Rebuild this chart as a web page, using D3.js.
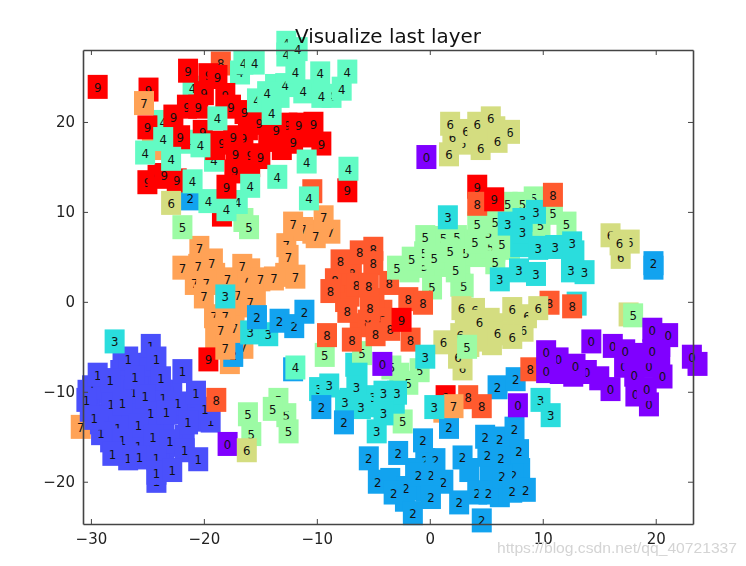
<!DOCTYPE html>
<html><head><meta charset="utf-8">
<script src="https://cdnjs.cloudflare.com/ajax/libs/d3/7.8.5/d3.min.js"></script>
<style>html,body{margin:0;padding:0;background:#fff}svg{display:block}</style>
</head><body><svg id="c" width="746" height="566"></svg>
<script>
const digitColors=["#8000ff","#4a50fb","#12a3ef","#2adddd","#62fbc4","#9cfba4","#d4dd80","#ffa256","#ff5a2e","#ff0000"];
const xTicks=[-30,-20,-10,0,10,20], yTicks=[-20,-10,0,10,20];
const titleText="Visualize last layer", watermark="https://blog.csdn.net/qq_40721337";

const x7u=[-19.0,-18.1,-16.8,-15.4,-17.3,-19.0,-17.3,-10.4,-15.9,-12.8,-17.7,-24.6,1.2,-19.2,-20.5,-16.3,-12.7,-17.0,-19.1,-17.3,-16.5,-11.2,-10.1,-8.8];
const y7u=[3.0,0.8,-0.4,0.4,-0.7,-4.2,-4.2,7.8,3.5,3.0,-6.7,17.1,-12.1,4.6,4.0,2.4,6.3,0.8,-1.6,-2.9,-5.0,8.1,7.3,7.8];
const x7a=[-20.4,-21.9,-19.3,-16.6,-20.8,-19.8,-17.9,-15.0,-13.8,-11.9,-12.5,-20.0,-15.9,-18.1,-18.5,-12.1,-9.4,-30.9];
const y7a=[6.0,3.8,4.3,4.0,2.1,2.1,2.5,2.5,2.6,2.8,5.0,0.6,0.0,-1.6,-3.1,8.7,9.4,-13.9];
const x2a=[-21.2,-12.1,-17.4,6.0,7.6];
const y2a=[11.5,-7.5,-5.9,-9.5,-8.6];
const x9a=[-18.4,4.2,1.4];
const y9a=[9.7,12.8,-10.6];
const x1u=[-29.2,-27.9,-27.4,-25.0,-24.0,-21.2,-28.8,-27.0,-24.8,-23.5,-22.1,-20.4,-28.3,-24.8,-23.5,-21.7,-27.0,-30.1,-25.7,-26.1,-24.8,-22.8,-29.2,-27.6,-22.8,-23.9,-30.3,-27.2,-24.7,-29.9,-26.2,-23.7,-23.6,-22.3,-24.2,-19.4,-19.9,-27.6,-29.1,-25.8,-25.8,-26.7];
const y1u=[-10.0,-10.0,-7.8,-8.1,-9.3,-11.5,-12.6,-12.9,-13.7,-14.0,-12.3,-13.1,-15.4,-16.5,-17.0,-15.0,-14.5,-12.0,-12.0,-7.0,-7.0,-10.0,-13.4,-16.5,-15.9,-18.2,-10.0,-6.9,-4.9,-9.5,-10.0,-10.0,-10.7,-11.3,-19.9,-13.2,-11.9,-14.0,-14.6,-15.1,-16.0,-17.4];
const x1=[-26.7,-24.2,-21.9,-29.4,-28.3,-26.1,-23.8,-30.4,-28.2,-27.2,-25.2,-20.7,-24.7,-23.3,-29.7,-25.8,-21.4,-24.5,-27.2,-23.0,-28.1,-25.7,-24.2,-21.7,-20.5,-24.2,-22.8];
const y1=[-6.3,-6.3,-7.7,-8.1,-8.7,-8.4,-8.5,-10.9,-11.4,-11.3,-10.5,-10.1,-12.4,-12.3,-12.9,-13.7,-13.4,-15.0,-15.4,-15.5,-16.9,-17.3,-17.4,-16.5,-17.5,-19.0,-18.7];
const x5u=[0.9,0.9,2.7,4.4,-1.8,4.9,5.8,7.1,2.7,-2.7,-16.5,-0.5,-0.5,1.2,5.4,5.2,6.4,5.8,3.0,9.2,10.9,-3.4,9.8,-12.7,-13.4,5.8,2.4];
const y5u=[6.1,4.1,4.4,5.2,3.5,8.5,5.8,6.0,1.9,-8.1,9.1,4.0,5.4,7.1,6.1,7.7,6.4,4.4,1.8,11.5,9.9,-7.3,8.5,-12.6,-10.9,8.9,7.2];
const x5a=[-21.9,-16.0,-9.3,-6.0,-0.9,-1.9,-16.1,-15.8,-13.9,-12.5,-0.4,-1.6,0.4,1.8,3.2,4.0,2.3,0.2,6.9,8.2,12.1,4.2];
const y5a=[8.3,8.3,-5.9,-5.7,-7.6,-9.0,-12.5,-14.7,-11.9,-14.4,7.2,4.8,4.9,5.7,5.4,6.7,3.5,1.6,10.9,10.9,8.7,8.7];
const x3a=[13.0,-6.6];
const y3a=[-0.2,-7.0];
const x8u=[-7.1,-4.2,-6.2,-7.5,-4.9,-7.1,-5.0,-8.4,-6.9,-6.5,-5.5,-4.2,-3.5,-1.9,10.6];
const y8u=[0.8,-1.1,-2.6,0.2,0.2,4.4,5.9,2.4,3.2,1.9,-2.2,-2.0,-3.0,0.3,-0.1];
const x8=[-18.5,-10.4,-7.9,-6.2,-5.0,-8.8,-5.4,-3.6,-7.3,-5.3,-0.6,-9.1,-6.9,-4.8,-1.7,4.2,12.6,8.9,3.4,4.6,-18.9];
const y8=[26.5,12.3,4.5,5.5,4.3,1.2,1.8,2.1,-1.0,-0.7,-0.1,-3.7,-4.2,-3.6,-4.2,10.9,-0.5,-7.5,-10.6,-11.6,-10.9];
const x5b=[-2.9,-2.4];
const y5b=[3.8,-13.3];
const x3u=[-7.1,-5.3,-3.1,-6.4,8.0,12.8,-7.5,-5.0,-15.9,-2.9,8.2];
const y3u=[-10.9,-11.5,-11.1,-8.1,6.3,5.5,-11.1,-10.6,-3.4,-10.1,9.1];
const x3=[-27.9,-18.1,-14.3,-9.8,-8.9,-6.5,-6.1,-4.1,-4.1,-4.7,1.6,9.4,6.9,8.2,9.6,11.1,12.6,6.2,7.9,9.4,12.5,13.7,9.8,10.7];
const y3=[-4.4,0.6,-3.6,-9.7,-9.3,-9.5,-11.7,-10.1,-12.4,-14.4,9.4,10.0,8.7,7.8,6.0,6.1,6.5,2.5,3.5,3.1,3.5,3.3,-10.9,-12.6];
const x8b=[10.9];
const y8b=[11.9];
const x2u=[3.5,5.3,6.6,8.0,-3.5,-0.4,6.2,-1.3,-2.2,19.8,-0.4,0.5,0.1,-2.1,4.2,7.4,5.1];
const y2u=[-18.7,-18.7,-17.8,-18.7,-19.8,-20.9,-21.5,-18.7,-22.0,3.8,-17.6,-17.6,-19.2,-20.7,-21.2,-19.3,-17.0];
const x2b=[-15.3,-13.3,-12.0,-11.1,-9.6,-7.6,-5.4,-2.8,-0.6,1.7,2.9,4.9,6.2,7.5,7.9,6.3,-1.0,-4.6,-3.2,1.2,0.1,-1.5,2.6,5.2,6.4,7.3,8.5,4.6,19.8];
const y2b=[-1.7,-2.1,-2.7,-1.1,-11.7,-13.4,-17.4,-16.8,-15.4,-13.9,-17.3,-15.0,-15.2,-14.1,-16.6,-17.4,-19.2,-20.0,-21.2,-20.0,-21.7,-23.5,-22.3,-21.2,-19.4,-21.0,-20.9,-24.3,4.3];
const x4a=[-21.0,-23.6,-21.4,-19.1,-10.7,-16.8];
const y4a=[23.8,20.0,17.8,15.8,11.5,25.5];
const x9u=[-19.0,-16.1,-14.3,-13.1,-11.1,-15.9,-24.9,-21.5,-19.6,-20.0,-18.1,-20.1,-16.4,-12.6,-12.1,-18.4,-16.5,-15.9,-17.3,-22.4,-25.0,-24.1];
const y9u=[17.1,19.3,18.0,17.1,18.5,15.2,23.6,21.7,25.2,23.2,23.0,18.9,21.1,19.7,17.8,17.7,18.2,16.3,14.5,13.5,13.3,13.9];
const x9=[-29.4,-21.4,-18.8,-25.0,-22.7,-22.1,-20.5,-17.6,-15.1,-13.6,-11.6,-10.3,-9.6,-17.4,-17.2,-15.0,-23.5,-7.3,5.7,-2.5,-19.6];
const y9=[23.9,25.7,25.0,19.4,20.6,18.3,21.7,21.7,19.9,19.1,19.7,19.8,17.6,18.3,16.4,16.1,14.1,12.4,11.4,-2.0,-6.4];
const x4u=[-13.7,-13.3,-12.7,-16.5,-12.8,-15.3,-8.7,-17.0];
const y4u=[24.0,22.9,28.8,26.6,24.1,22.4,22.9,11.1];
const x4b=[-12.7,-11.7,-15.5,-11.9,-9.7,-7.3,-14.4,-14.0,-11.2,-9.6,-7.8,-18.8,-23.6,-20.3,-25.2,-22.9,-21.0,-19.6,-18.0,-15.9,-13.5,-10.9,-7.2,-11.9];
const y4b=[27.5,28.1,26.6,25.6,25.4,25.6,23.2,21.0,23.4,22.9,23.7,20.4,18.1,17.4,16.6,15.9,13.4,11.2,10.3,12.9,13.9,15.6,14.8,-7.3];
const x9b=[-18.0];
const y9b=[12.8];
const x7b=[-25.3,-18.1,2.1];
const y7b=[22.1,-5.1,-11.6];
const x6u=[4.4,5.8,5.3,3.5,6.6,7.9,3.1,5.5,4.2,5.4,2.9,2.0,3.2,7.1,4.0,2.7,2.9,2.5,8.6,16.0,16.9,17.7,17.6];
const y6u=[18.3,19.3,-2.0,-4.8,-2.6,-2.0,-2.0,-4.6,-4.2,20.4,17.7,18.3,19.0,18.9,-0.9,-3.7,-7.4,-6.1,-1.6,7.4,5.0,6.7,-1.4];
const x6a=[-22.9,1.8,4.2,4.5,6.0,1.7,16.8,2.8,4.4,7.3,9.6,6.0,8.3,7.3,1.2];
const y6a=[11.0,19.8,19.8,17.1,17.9,16.4,6.5,-0.7,-2.2,-0.8,-0.7,-3.5,-3.1,-3.9,-4.5];
const x5c=[3.3,18.0];
const y5c=[-5.0,-1.5];
const x0u=[11.5,15.0,18.6,20.4,12.7,20.4,23.7,13.9,16.2,17.2,18.1,19.4,18.2,19.4];
const y0u=[-7.8,-8.5,-5.9,-5.9,-8.1,-4.8,-6.9,-7.8,-4.9,-7.1,-8.1,-7.1,-10.3,-11.4];
const x0=[-0.3,-4.2,-17.9,7.8,16.0,12.9,11.4,10.3,10.3,14.3,17.3,19.2,20.6,19.7,21.1,19.7,23.2];
const y0=[16.1,-6.9,-15.8,-11.5,-9.7,-7.1,-6.4,-5.6,-7.7,-4.4,-5.5,-9.7,-8.3,-3.1,-3.7,-5.5,-6.1];
const x6b=[-16.2];
const y6b=[-16.5];
const x3c=[-0.4,0.4];
const y3c=[-6.1,-11.7];

// layers drawn bottom to top. blankCount = leading boxes in a layer whose digit is not readable in the picture
const layerDigits=[7,7,2,9,1,1,3,5,5,8,8,5,3,3,8,2,2,4,9,9,4,4,9,7,6,6,5,0,0,6,3];
const layerX=[x7u,x7a,x2a,x9a,x1u,x1,x3a,x5u,x5a,x8u,x8,x5b,x3u,x3,x8b,x2u,x2b,x4a,x9u,x9,x4u,x4b,x9b,x7b,x6u,x6a,x5c,x0u,x0,x6b,x3c];
const layerY=[y7u,y7a,y2a,y9a,y1u,y1,y3a,y5u,y5a,y8u,y8,y5b,y3u,y3,y8b,y2u,y2b,y4a,y9u,y9,y4u,y4b,y9b,y7b,y6u,y6a,y5c,y0u,y0,y6b,y3c];
const blankCount=[14,0,0,0,28,0,0,11,0,6,0,0,6,0,0,10,0,0,6,0,2,0,0,0,9,0,0,7,0,0,0];

const L=83,R=693,T=50,B=524,boxW=20,boxH=24;
const xS=d3.scaleLinear().domain([-30.7,23.3]).range([L,R]);
const yS=d3.scaleLinear().domain([-24.7,28]).range([B,T]);
const svg=d3.select("#c");
const root=svg.append("g").style("filter","blur(0.35px)");

const pts=[];
layerDigits.forEach((d,i)=>layerX[i].forEach((vx,j)=>pts.push({d,x:vx,y:layerY[i][j],blank:j<blankCount[i]})));
const marks=root.append("g").selectAll("g").data(pts).join("g")
  .attr("transform",p=>`translate(${xS(p.x)},${yS(p.y)})`);
marks.append("rect").attr("x",-boxW/2).attr("y",-boxH/2).attr("width",boxW).attr("height",boxH)
  .attr("fill",p=>digitColors[p.d]);
marks.filter(p=>!p.blank).append("text").text(p=>p.d).attr("text-anchor","middle").attr("y",5)
  .attr("font-family","'DejaVu Sans Condensed','DejaVu Sans'").attr("font-size",13).attr("fill","#111");

function style(g,size){
  g.select(".domain").attr("stroke","#444").attr("stroke-width",1.6);
  g.selectAll(".tick line").attr("stroke","#444").attr("stroke-width",1);
  g.selectAll("text").attr("font-family","'DejaVu Sans'").attr("font-size",size).attr("fill","#222");
}
const ax=root.append("g");
const bottom=ax.append("g").attr("transform",`translate(0,${B})`).call(d3.axisBottom(xS).tickValues(xTicks).tickSizeInner(-5).tickSizeOuter(0).tickPadding(9));
const top_=ax.append("g").attr("transform",`translate(0,${T})`).call(d3.axisTop(xS).tickValues(xTicks).tickSizeInner(-5).tickSizeOuter(0).tickFormat(""));
const left=ax.append("g").attr("transform",`translate(${L},0)`).call(d3.axisLeft(yS).tickValues(yTicks).tickSizeInner(-5).tickSizeOuter(0).tickPadding(8));
const right=ax.append("g").attr("transform",`translate(${R},0)`).call(d3.axisRight(yS).tickValues(yTicks).tickSizeInner(-5).tickSizeOuter(0).tickFormat(""));
[bottom,top_,left,right].forEach(g=>style(g,15));

root.append("text").text(titleText).attr("x",388).attr("y",43).attr("text-anchor","middle")
  .attr("font-family","'DejaVu Sans'").attr("font-size",19.9).attr("fill","#111");
root.append("text").text(watermark).attr("x",497).attr("y",553).attr("textLength",240)
  .attr("lengthAdjust","spacingAndGlyphs").attr("font-family","'Liberation Sans'").attr("font-size",15).attr("fill","#d4d4d4");
</script></body></html>
